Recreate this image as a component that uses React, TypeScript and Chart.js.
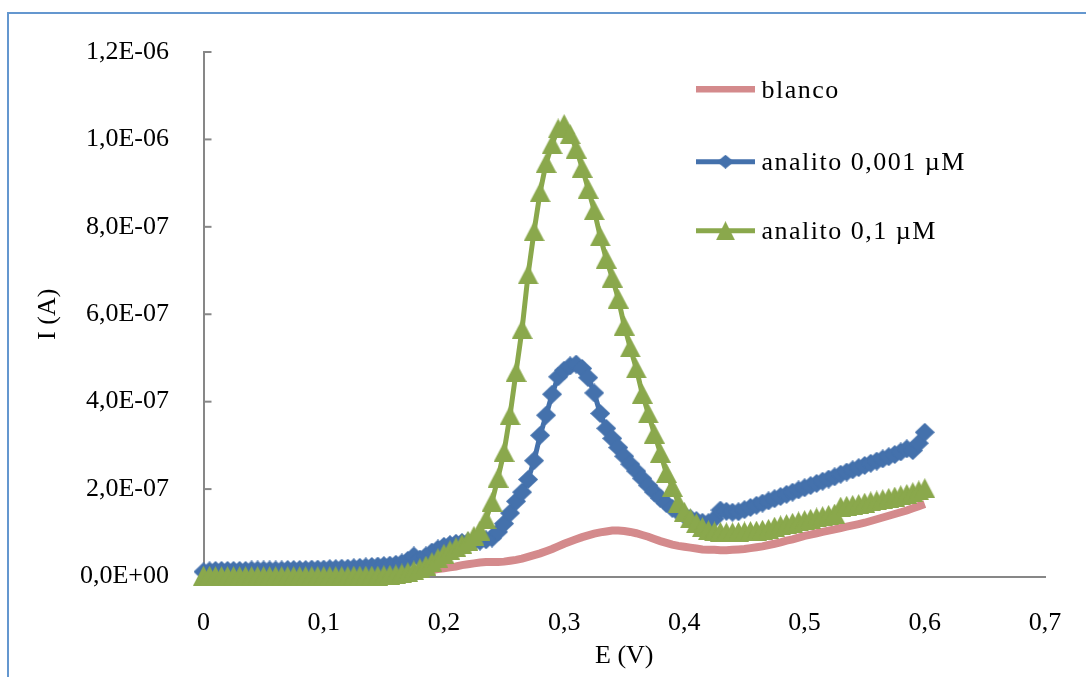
import React, { useEffect, useRef } from 'react';
import { Chart, registerables } from 'chart.js';

Chart.register(...registerables);

// Potential (V)
const E_V = [
  0, 0.005, 0.01, 0.015, 0.02, 0.025, 0.03, 0.035, 0.04, 0.045,
  0.05, 0.055, 0.06, 0.065, 0.07, 0.075, 0.08, 0.085, 0.09, 0.095,
  0.1, 0.105, 0.11, 0.115, 0.12, 0.125, 0.13, 0.135, 0.14, 0.145,
  0.15, 0.155, 0.16, 0.165, 0.17, 0.175, 0.18, 0.185, 0.19, 0.195,
  0.2, 0.205, 0.21, 0.215, 0.22, 0.225, 0.23, 0.235, 0.24, 0.245,
  0.25, 0.255, 0.26, 0.265, 0.27, 0.275, 0.28, 0.285, 0.29, 0.295,
  0.3, 0.305, 0.31, 0.315, 0.32, 0.325, 0.33, 0.335, 0.34, 0.345,
  0.35, 0.355, 0.36, 0.365, 0.37, 0.375, 0.38, 0.385, 0.39, 0.395,
  0.4, 0.405, 0.41, 0.415, 0.42, 0.425, 0.43, 0.435, 0.44, 0.445,
  0.45, 0.455, 0.46, 0.465, 0.47, 0.475, 0.48, 0.485, 0.49, 0.495,
  0.5, 0.505, 0.51, 0.515, 0.52, 0.525, 0.53, 0.535, 0.54, 0.545,
  0.55, 0.555, 0.56, 0.565, 0.57, 0.575, 0.58, 0.585, 0.59, 0.595,
  0.6,
];

// Currents in units of 1e-7 A
const BLANCO = [
  0.02, 0.02, 0.02, 0.025, 0.025, 0.025, 0.03, 0.03, 0.03, 0.03,
  0.035, 0.035, 0.035, 0.04, 0.04, 0.04, 0.045, 0.045, 0.05, 0.05,
  0.05, 0.055, 0.055, 0.06, 0.06, 0.065, 0.065, 0.07, 0.07, 0.075,
  0.08, 0.085, 0.09, 0.095, 0.1, 0.11, 0.12, 0.13, 0.15, 0.17,
  0.19, 0.21, 0.23, 0.26, 0.28, 0.3, 0.32, 0.33, 0.33, 0.33,
  0.34, 0.36, 0.38, 0.41, 0.45, 0.49, 0.53, 0.58, 0.63, 0.69,
  0.75, 0.8, 0.85, 0.9, 0.94, 0.98, 1.01, 1.03, 1.05, 1.05,
  1.04, 1.02, 0.99, 0.95, 0.91, 0.86, 0.81, 0.77, 0.73, 0.7,
  0.68, 0.66, 0.64, 0.62, 0.61, 0.61, 0.6, 0.6, 0.61, 0.62,
  0.63, 0.65, 0.67, 0.69, 0.72, 0.75, 0.78, 0.82, 0.85, 0.89,
  0.93, 0.96, 0.99, 1.02, 1.05, 1.08, 1.11, 1.14, 1.17, 1.2,
  1.23, 1.27, 1.31, 1.35, 1.39, 1.43, 1.47, 1.51, 1.56, 1.61,
  1.66,
];

const ANALITO_0001 = [
  0.11, 0.13, 0.14, 0.14, 0.14, 0.14, 0.14, 0.14, 0.15, 0.15,
  0.15, 0.15, 0.15, 0.15, 0.16, 0.16, 0.16, 0.16, 0.17, 0.17,
  0.17, 0.18, 0.18, 0.19, 0.19, 0.2, 0.21, 0.22, 0.23, 0.24,
  0.25, 0.26, 0.28, 0.31, 0.37, 0.47, 0.4, 0.47, 0.56, 0.63,
  0.69, 0.73, 0.76, 0.78, 0.79, 0.8, 0.81, 0.84, 0.88, 1.02,
  1.21, 1.45, 1.72, 1.93, 2.22, 2.65, 3.23, 3.69, 4.17, 4.57,
  4.72, 4.82, 4.86, 4.76, 4.55, 4.2, 3.73, 3.39, 3.16, 2.95,
  2.75, 2.57, 2.41, 2.24, 2.08, 1.93, 1.79, 1.67, 1.56, 1.47,
  1.4, 1.33, 1.28, 1.24, 1.23, 1.32, 1.52, 1.49, 1.47, 1.48,
  1.53, 1.58, 1.63, 1.68, 1.73, 1.78, 1.83, 1.88, 1.93, 1.98,
  2.03, 2.08, 2.13, 2.18, 2.23, 2.28, 2.34, 2.39, 2.44, 2.49,
  2.54, 2.59, 2.64, 2.69, 2.74, 2.79, 2.85, 2.92, 2.88, 3.05,
  3.3,
];

const ANALITO_01 = [
  0.02, 0.02, 0.01, 0.01, 0.01, 0.01, 0.01, 0.01, 0.01, 0.01,
  0.01, 0.01, 0.01, 0.01, 0.01, 0.01, 0.01, 0.01, 0.01, 0.01,
  0.01, 0.01, 0.01, 0.01, 0.01, 0.02, 0.02, 0.02, 0.02, 0.02,
  0.03, 0.04, 0.05, 0.07, 0.1, 0.14, 0.19, 0.25, 0.33, 0.42,
  0.52, 0.6, 0.67, 0.74, 0.82, 0.93, 1.05, 1.31, 1.71, 2.26,
  2.85, 3.69, 4.68, 5.66, 6.91, 7.9, 8.79, 9.46, 9.89, 10.25,
  10.35, 10.12, 9.79, 9.35, 8.87, 8.38, 7.78, 7.27, 6.84, 6.36,
  5.74, 5.24, 4.76, 4.18, 3.73, 3.27, 2.83, 2.37, 2.05, 1.69,
  1.48, 1.33, 1.22, 1.13, 1.06, 1.03, 1.02, 1.01, 1.01, 1.02,
  1.03, 1.04, 1.05, 1.07, 1.09, 1.14, 1.17, 1.2, 1.23, 1.26,
  1.29, 1.32, 1.35, 1.38, 1.41, 1.44, 1.6, 1.62, 1.64, 1.66,
  1.69, 1.72, 1.74, 1.77, 1.8, 1.83, 1.86, 1.89, 1.93, 1.97,
  2.02,
];

const UNIT = 1e-7;

const SERIES_NAMES = ['blanco', 'analito 0,001 µM', 'analito 0,1 µM'];

const Y_TICKS = [0, 2e-7, 4e-7, 6e-7, 8e-7, 1e-6, 1.2e-6];
const Y_TICK_LABELS = ['0,0E+00', '2,0E-07', '4,0E-07', '6,0E-07', '8,0E-07', '1,0E-06', '1,2E-06'];
const X_TICKS = [0, 0.1, 0.2, 0.3, 0.4, 0.5, 0.6, 0.7];
const X_TICK_LABELS = ['0', '0,1', '0,2', '0,3', '0,4', '0,5', '0,6', '0,7'];

const PINK = '#d48a8c';
const BLUE = '#4471ac';
const GREEN = '#8aa84c';
const AXIS = '#878787';
const FRAME = '#6497cf';

const PAGE_W = 1086;
const PAGE_H = 677;
const PLOT_LEFT = 203.5;
const PLOT_RIGHT = 1045;
const PLOT_TOP = 52;
const PLOT_BOTTOM = 576.5;
const FONT = '"Liberation Serif", "Times New Roman", serif';

function makeDiamond(w: number, h: number, color: string) {
  const c = document.createElement('canvas');
  c.width = w;
  c.height = h;
  const g = c.getContext('2d')!;
  g.fillStyle = color;
  g.beginPath();
  g.moveTo(w / 2, 0);
  g.lineTo(w, h / 2);
  g.lineTo(w / 2, h);
  g.lineTo(0, h / 2);
  g.closePath();
  g.fill();
  return c;
}

function makeTriangle(w: number, h: number, color: string) {
  const c = document.createElement('canvas');
  c.width = w;
  c.height = h;
  const g = c.getContext('2d')!;
  g.fillStyle = color;
  g.beginPath();
  g.moveTo(w / 2, 0);
  g.lineTo(w, h);
  g.lineTo(0, h);
  g.closePath();
  g.fill();
  return c;
}

const toPts = (vals: number[]) => E_V.map((x, i) => ({ x, y: vals[i] * UNIT }));

export default function App() {
  const ref = useRef<HTMLCanvasElement>(null);

  useEffect(() => {
    if (!ref.current) return;
    const diamond = makeDiamond(20, 19, BLUE);
    const triangle = makeTriangle(21, 20, GREEN);
    const legendDiamond = makeDiamond(17, 14, BLUE);
    const legendTriangle = makeTriangle(19, 19, GREEN);

    const yTickMarks = {
      id: 'yTickMarks',
      beforeDatasetsDraw(chart: any) {
        const ys = chart.scales.y;
        const ctx = chart.ctx;
        ctx.save();
        ctx.strokeStyle = AXIS;
        ctx.lineWidth = 2;
        Y_TICKS.forEach((v) => {
          const py = ys.getPixelForValue(v);
          ctx.beginPath();
          ctx.moveTo(ys.right, py);
          ctx.lineTo(ys.right + 8, py);
          ctx.stroke();
        });
        ctx.restore();
      },
    };

    const legendPlugin = {
      id: 'customLegend',
      afterDraw(chart: any) {
        const ctx = chart.ctx;
        const x0 = 696;
        const x1 = 755;
        const tx = 761.5;
        const rows = [89.3, 161.7, 230.7];
        const colors = [PINK, BLUE, GREEN];
        const widths = [6.5, 5, 5];
        const markers: (HTMLCanvasElement | null)[] = [null, legendDiamond, legendTriangle];
        ctx.save();
        rows.forEach((ry, i) => {
          ctx.strokeStyle = colors[i];
          ctx.lineWidth = widths[i];
          ctx.beginPath();
          ctx.moveTo(x0, ry);
          ctx.lineTo(x1, ry);
          ctx.stroke();
          const m = markers[i];
          if (m) ctx.drawImage(m, (x0 + x1) / 2 - m.width / 2, ry - m.height / 2);
          ctx.fillStyle = '#000';
          ctx.font = `26px ${FONT}`;
          (ctx as any).letterSpacing = '1.5px';
          ctx.textBaseline = 'alphabetic';
          ctx.textAlign = 'left';
          ctx.fillText(SERIES_NAMES[i], tx, ry + 8.5);
        });
        ctx.restore();
      },
    };

    Chart.defaults.font.family = FONT;
    Chart.defaults.font.size = 26;
    Chart.defaults.color = '#000';

    const chart = new Chart(ref.current, {
      type: 'line',
      data: {
        datasets: [
          {
            label: SERIES_NAMES[0],
            data: toPts(BLANCO),
            borderColor: PINK,
            backgroundColor: PINK,
            borderWidth: 8,
            pointRadius: 0,
            tension: 0,
            order: 3,
            clip: false as any,
          },
          {
            label: SERIES_NAMES[1],
            data: toPts(ANALITO_0001),
            borderColor: BLUE,
            backgroundColor: BLUE,
            borderWidth: 5,
            pointStyle: diamond as any,
            pointRadius: 10,
            tension: 0,
            order: 2,
            clip: false as any,
          },
          {
            label: SERIES_NAMES[2],
            data: toPts(ANALITO_01),
            borderColor: GREEN,
            backgroundColor: GREEN,
            borderWidth: 5,
            pointStyle: triangle as any,
            pointRadius: 10,
            tension: 0,
            order: 1,
            clip: false as any,
          },
        ],
      },
      options: {
        responsive: false,
        animation: false,
        devicePixelRatio: 1,
        events: [],
        layout: {
          padding: { left: 0, right: PAGE_W - PLOT_RIGHT, top: PLOT_TOP, bottom: 0 },
        },
        plugins: {
          legend: { display: false },
          tooltip: { enabled: false },
        },
        scales: {
          x: {
            type: 'linear',
            min: 0,
            max: 0.7,
            afterBuildTicks: (s: any) => {
              s.ticks = X_TICKS.map((v) => ({ value: v }));
            },
            afterFit: (s: any) => {
              s.height = PAGE_H - PLOT_BOTTOM;
            },
            grid: { display: false },
            border: { display: true, color: AXIS, width: 2 },
            ticks: {
              autoSkip: false,
              maxRotation: 0,
              padding: 23,
              color: '#000',
              font: { size: 26, family: FONT },
              callback: (_v: any, i: number) => X_TICK_LABELS[i],
            },
            title: {
              display: true,
              text: 'E (V)',
              color: '#000',
              font: { size: 26, family: FONT },
              padding: { top: 0, bottom: 5.4 },
            },
          },
          y: {
            type: 'linear',
            min: 0,
            max: 1.2e-6,
            afterBuildTicks: (s: any) => {
              s.ticks = Y_TICKS.map((v) => ({ value: v }));
            },
            afterFit: (s: any) => {
              s.width = PLOT_LEFT;
            },
            grid: { display: false },
            border: { display: true, color: AXIS, width: 2 },
            ticks: {
              autoSkip: false,
              padding: 26.5,
              color: '#000',
              font: { size: 26, family: FONT },
              callback: (_v: any, i: number) => Y_TICK_LABELS[i],
            },
            title: {
              display: true,
              text: 'I (A)',
              color: '#000',
              font: { size: 26, family: FONT },
              padding: { top: 32.4, bottom: 0 },
            },
          },
        },
      } as any,
      plugins: [yTickMarks, legendPlugin],
    });

    return () => chart.destroy();
  }, []);

  return (
    <>
      <div
        style={{
          position: 'fixed',
          left: 7,
          top: 12,
          width: 1079,
          height: 665,
          borderLeft: `2px solid ${FRAME}`,
          borderTop: `2px solid ${FRAME}`,
          boxSizing: 'border-box',
        }}
      />
      <canvas
        ref={ref}
        width={PAGE_W}
        height={PAGE_H}
        style={{ position: 'fixed', left: 0, top: 0, width: `${PAGE_W}px`, height: `${PAGE_H}px` }}
      />
    </>
  );
}
